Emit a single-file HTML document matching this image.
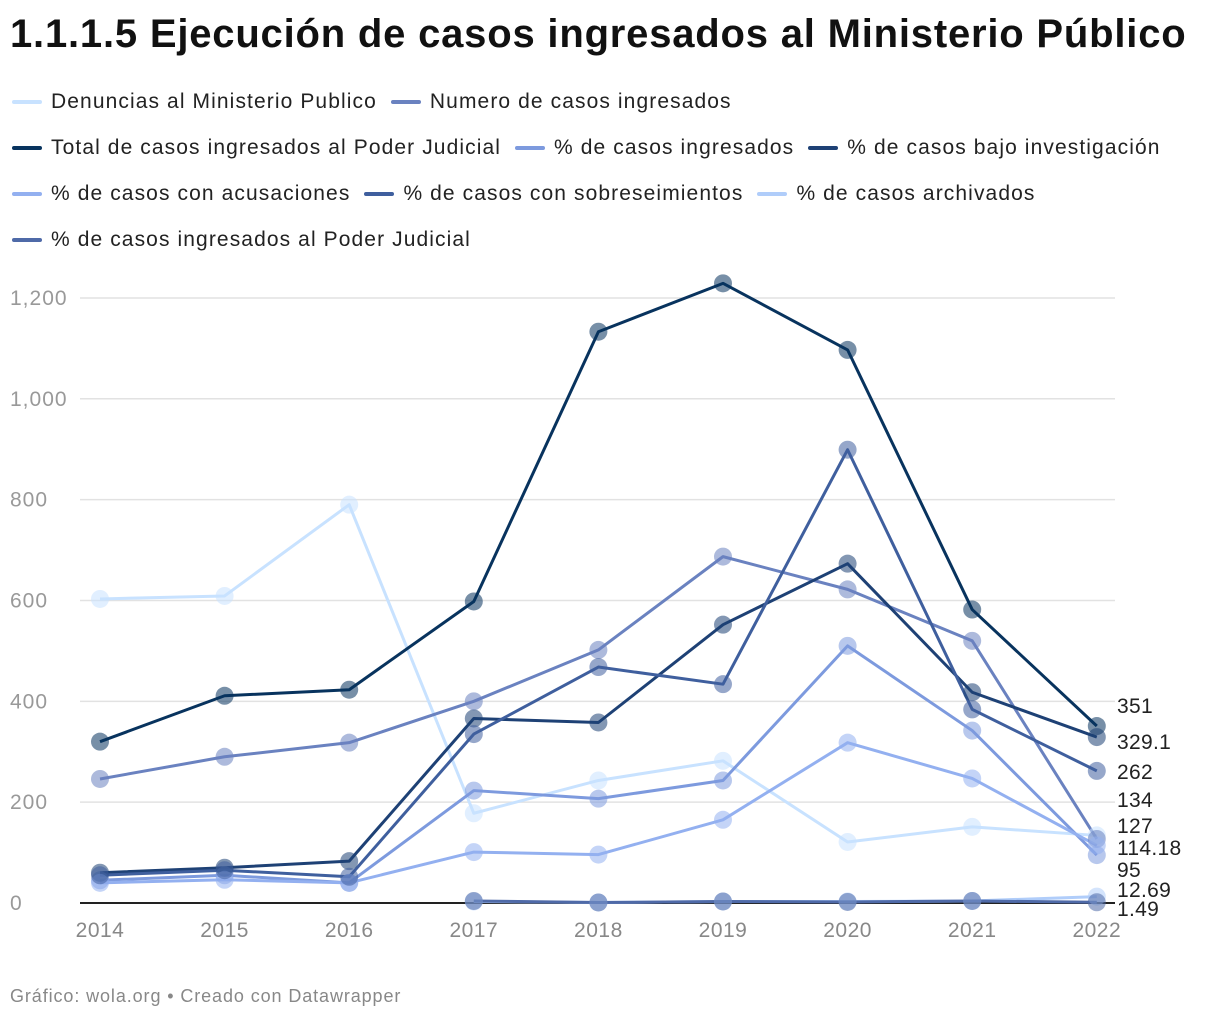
<!DOCTYPE html>
<html><head><meta charset="utf-8"><style>
body{margin:0;background:#fff;width:1220px;height:1020px;overflow:hidden;font-family:"Liberation Sans",Roboto,sans-serif;}
h1{position:absolute;left:10px;top:12px;margin:0;font-size:40px;font-weight:bold;color:#111;letter-spacing:0.8px;white-space:nowrap}
.legend{position:absolute;left:12px;top:88px;width:1210px;font-size:21px;color:#222;letter-spacing:1.1px}
.row{height:46px;display:flex;white-space:nowrap}
.item{display:flex;align-items:center;margin-right:14px;height:28px}
.sw{width:30px;height:4px;margin-right:9px;border-radius:2px}
.foot{position:absolute;left:10px;top:986px;font-size:18px;color:#888;letter-spacing:0.9px}
</style></head><body>
<h1>1.1.1.5 Ejecución de casos ingresados al Ministerio Público</h1>
<div class="legend" id="legend"></div>
<svg id="chart" width="1220" height="1020" style="position:absolute;left:0;top:0"></svg>
<div class="foot">Gráfico: wola.org • Creado con Datawrapper</div>
<script>
const years=[2014,2015,2016,2017,2018,2019,2020,2021,2022];
const yTicks=[0,200,400,600,800,1000,1200];
const seriesNames=["Denuncias al Ministerio Publico","Numero de casos ingresados","Total de casos ingresados al Poder Judicial","% de casos ingresados","% de casos bajo investigación","% de casos con acusaciones","% de casos con sobreseimientos","% de casos archivados","% de casos ingresados al Poder Judicial"];
const colors=["#c8e2ff","#6a82c0","#08335e","#7d9ade","#1e4175","#93b0f0","#3f5f9e","#b0cdfa","#4f6aa8"];
const sDenuncias=[603,609,790,178,243,282,121,151,134];
const sNumero=[246,290,318,400,502,687,622,520,127];
const sTotal=[320,411,423,598,1133,1229,1097,582,351];
const sIngresados=[45,55,40,223,207,243,510,342,95];
const sInvestigacion=[60,70,83,366,358,552,673,418,329.1];
const sAcusaciones=[40,46,40,101,96,165,318,247,114.18];
const sSobreseimientos=[55,65,52,335,468,434,899,384,262];
const sArchivados=[null,null,null,3,1,3,3,4,12.69];
const sIngresadosPJ=[null,null,null,4,1,3,2,4,1.49];
const labels=["134","127","351","95","329.1","114.18","262","12.69","1.49"];
const allSeries=[sDenuncias,sNumero,sTotal,sIngresados,sInvestigacion,sAcusaciones,sSobreseimientos,sArchivados,sIngresadosPJ];
const svg=document.getElementById('chart');const NS="http://www.w3.org/2000/svg";
const x=i=>100+i*124.6;const y=v=>903-v*0.5042;
function mk(t,a){const e=document.createElementNS(NS,t);for(const k in a)e.setAttribute(k,a[k]);svg.appendChild(e);return e;}
yTicks.forEach(t=>{
 const l=mk('line',{x1:80,x2:1115,y1:y(t),y2:y(t),stroke:t===0?'#222':'#e2e2e2','stroke-width':t===0?2:1.5});
 
 
 const tx=mk('text',{x:10,y:y(t)+7,'font-size':21,fill:'#999','letter-spacing':1});tx.textContent=t.toLocaleString('en-US');
 
 
});
years.forEach((yr,i)=>{
 const tx=mk('text',{x:x(i),y:937,'font-size':21,fill:'#888','text-anchor':'middle','letter-spacing':0.5});tx.textContent=yr;
 
 
});
allSeries.forEach((s,k)=>{
 let d='';s.forEach((v,i)=>{if(v==null)return;d+=(d?'L':'M')+x(i)+','+y(v);});
 const p=mk('path',{d:d,fill:'none',stroke:colors[k],'stroke-width':3,'stroke-linejoin':'round'});
 
 
});
allSeries.forEach((s,k)=>{
 s.forEach((v,i)=>{if(v==null)return;
  const c=mk('circle',{cx:x(i),cy:y(v),r:9,fill:colors[k],'fill-opacity':0.55});
  
  
 });
});
const labelY=[706,742,772,800,826,848,870,890,909];
const order=[2,4,6,0,1,5,3,7,8];
order.forEach((k,j)=>{
 const tx=mk('text',{x:1117,y:labelY[j]+7,'font-size':21,fill:'#222','letter-spacing':0.3});tx.textContent=labels[k];
 
 
});
const rows=[[0,1],[2,3,4],[5,6,7],[8]];
const lg=document.getElementById('legend');
rows.forEach(r=>{const row=document.createElement('div');row.className='row';
 r.forEach(k=>{const it=document.createElement('div');it.className='item';
  
  
  it.innerHTML='<span class="sw" style="background:'+colors[k]+'"></span>'+seriesNames[k];row.appendChild(it);});
 lg.appendChild(row);});
</script>
</body></html>
